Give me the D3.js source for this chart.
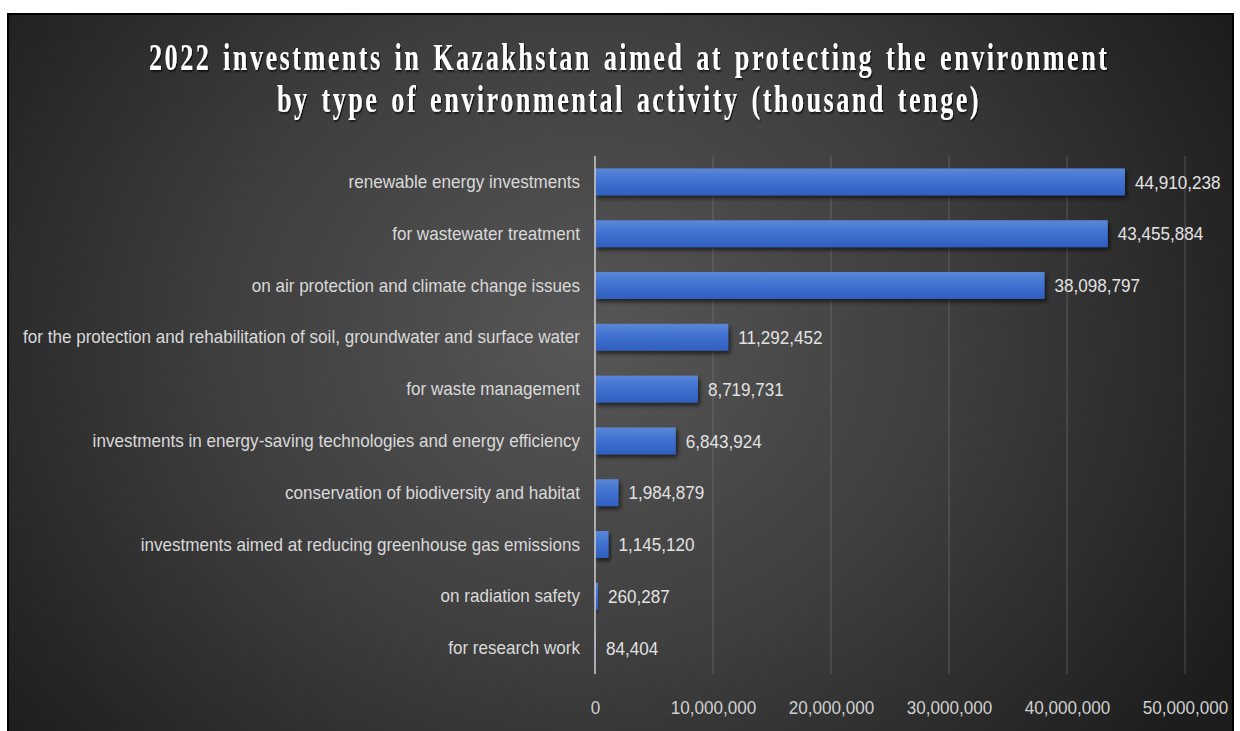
<!DOCTYPE html>
<html>
<head>
<meta charset="utf-8">
<script src="https://cdn.jsdelivr.net/npm/d3@7"></script>
<style>
  html, body { margin: 0; padding: 0; background: #fff; }
  svg { display: block; }
</style>
</head>
<body>
<div id="chart"></div>
<script>
// data
var categories = [
    "renewable energy investments",
    "for wastewater treatment",
    "on air protection and climate change issues",
    "for the protection and rehabilitation of soil, groundwater and surface water",
    "for waste management",
    "investments in energy-saving technologies and energy efficiency",
    "conservation of biodiversity and habitat",
    "investments aimed at reducing greenhouse gas emissions",
    "on radiation safety",
    "for research work"
];
var values = [44910238, 43455884, 38098797, 11292452, 8719731, 6843924, 1984879, 1145120, 260287, 84404];
var xTicks = [0, 10000000, 20000000, 30000000, 40000000, 50000000];
var titleLines = [
    "2022 investments in Kazakhstan aimed at protecting the environment",
    "by type of environmental activity (thousand tenge)"
];

var W = 1240, H = 731;
var margin = { left: 595, right: 55, top: 156, bottom: 57 };

var svg = d3.select("#chart").append("svg")
    .attr("width", W)
    .attr("height", H);

var defs = svg.append("defs");

var bg = defs.append("radialGradient")
    .attr("id", "bg")
    .attr("cx", "0.47").attr("cy", "0.45").attr("r", "0.6")
    .attr("gradientTransform", "translate(0.47,0.45) scale(1,1.5) translate(-0.47,-0.45)");
bg.append("stop").attr("offset", "0%").attr("stop-color", "#575757");
bg.append("stop").attr("offset", "50%").attr("stop-color", "#3e3e3e");
bg.append("stop").attr("offset", "100%").attr("stop-color", "#1d1d1d");

var barGrad = defs.append("linearGradient")
    .attr("id", "barGrad")
    .attr("x1", 0).attr("y1", 0).attr("x2", 0).attr("y2", 1);
barGrad.append("stop").attr("offset", "0%").attr("stop-color", "#5a87d8");
barGrad.append("stop").attr("offset", "50%").attr("stop-color", "#3e70d0");
barGrad.append("stop").attr("offset", "100%").attr("stop-color", "#2f5fbf");

var shadow = defs.append("filter").attr("id", "shadow")
    .attr("x", "-10%").attr("y", "-30%").attr("width", "130%").attr("height", "180%");
shadow.append("feDropShadow")
    .attr("dx", 2).attr("dy", 3).attr("stdDeviation", 2)
    .attr("flood-color", "#000").attr("flood-opacity", 0.6);

var tshadow = defs.append("filter").attr("id", "tshadow");
tshadow.append("feDropShadow")
    .attr("dx", 1.5).attr("dy", 1.5).attr("stdDeviation", 1)
    .attr("flood-color", "#000").attr("flood-opacity", 0.8);

// frame
svg.append("rect")
    .attr("x", 8).attr("y", 14)
    .attr("width", 1225).attr("height", 722)
    .attr("fill", "url(#bg)")
    .attr("stroke", "#000")
    .attr("stroke-width", 2);

// title: tall narrow serif with wide tracking -> letter-spacing, then squeeze sideways
var titleWidths = [958, 702];
var titleY = [70, 112];
var titles = svg.append("g").selectAll("text")
    .data(titleLines)
    .enter().append("text")
    .attr("x", 0)
    .attr("y", 0)
    .attr("font-family", "'Liberation Serif', 'Times New Roman', serif")
    .attr("font-weight", "bold")
    .attr("font-size", 37)
    .attr("letter-spacing", 3.5)
    .attr("word-spacing", 4)
    .attr("fill", "#fff")
    .attr("filter", "url(#tshadow)")
    .text(function (d) { return d; });
titles.each(function (d, i) {
    var len = this.getComputedTextLength() - 3.5;
    var k = titleWidths[i] / len;
    d3.select(this).attr("transform",
        "translate(" + (628 - titleWidths[i] / 2) + "," + titleY[i] + ") scale(" + k + ",1)");
});

var x = d3.scaleLinear()
    .domain([0, 50000000])
    .range([margin.left, W - margin.right]);

var y = d3.scaleBand()
    .domain(categories)
    .range([margin.top, H - margin.bottom])
    .paddingInner(0.48)
    .paddingOuter(0.24);

var fmt = d3.format(",");
var labelFont = "'Liberation Sans', Arial, sans-serif";
var labelSize = 19;

// gridlines
svg.append("g").selectAll("line")
    .data(xTicks.slice(1))
    .enter().append("line")
    .attr("x1", function (d) { return x(d); })
    .attr("x2", function (d) { return x(d); })
    .attr("y1", margin.top)
    .attr("y2", H - margin.bottom)
    .attr("stroke", "#8a8a8a")
    .attr("stroke-opacity", 0.45)
    .attr("stroke-width", 1);

// x axis labels
var xAxis = d3.axisBottom(x)
    .tickValues(xTicks)
    .tickFormat(fmt)
    .tickSize(0)
    .tickPadding(27);

var gx = svg.append("g")
    .attr("transform", "translate(0," + (H - margin.bottom) + ")")
    .call(xAxis);
gx.select(".domain").remove();
gx.selectAll("text")
    .attr("font-family", labelFont)
    .attr("font-size", labelSize)
    .attr("fill", "#d0d0d0");

// bars
svg.append("g").selectAll("rect")
    .data(values)
    .enter().append("rect")
    .attr("x", x(0))
    .attr("y", function (d, i) { return y(categories[i]); })
    .attr("width", function (d) { return x(d) - x(0); })
    .attr("height", y.bandwidth())
    .attr("fill", "url(#barGrad)")
    .attr("filter", "url(#shadow)");

// y axis line
svg.append("line")
    .attr("x1", x(0)).attr("x2", x(0))
    .attr("y1", margin.top).attr("y2", H - margin.bottom)
    .attr("stroke", "#cfcfcf")
    .attr("stroke-width", 1.5);

// category labels
var yAxis = d3.axisLeft(y).tickSize(0).tickPadding(15);
var gy = svg.append("g")
    .attr("transform", "translate(" + x(0) + ",0)")
    .call(yAxis);
gy.select(".domain").remove();
gy.selectAll("text")
    .attr("font-family", labelFont)
    .attr("font-size", labelSize)
    .attr("fill", "#d9d9d9");

// value labels
var valueLabels = svg.append("g").selectAll("text")
    .data(values)
    .enter().append("text")
    .attr("x", function (d) { return x(d) + 10; })
    .attr("y", function (d, i) { return y(categories[i]) + y.bandwidth() / 2; })
    .attr("dy", "0.35em")
    .attr("font-family", labelFont)
    .attr("font-size", labelSize)
    .attr("fill", "#e2e2e2")
    .text(function (d) { return fmt(d); });

// the chart uses a condensed face; squeeze every label by the same factor
var longest = d3.max(gy.selectAll("text").nodes(), function (n) { return n.getComputedTextLength(); });
var squeeze = 557 / longest;
function narrow(sel) {
    sel.each(function () {
        var len = this.getComputedTextLength();
        d3.select(this)
            .attr("textLength", len * squeeze)
            .attr("lengthAdjust", "spacingAndGlyphs");
    });
}
narrow(gy.selectAll("text"));
narrow(gx.selectAll("text"));
narrow(valueLabels);
</script>
</body>
</html>
